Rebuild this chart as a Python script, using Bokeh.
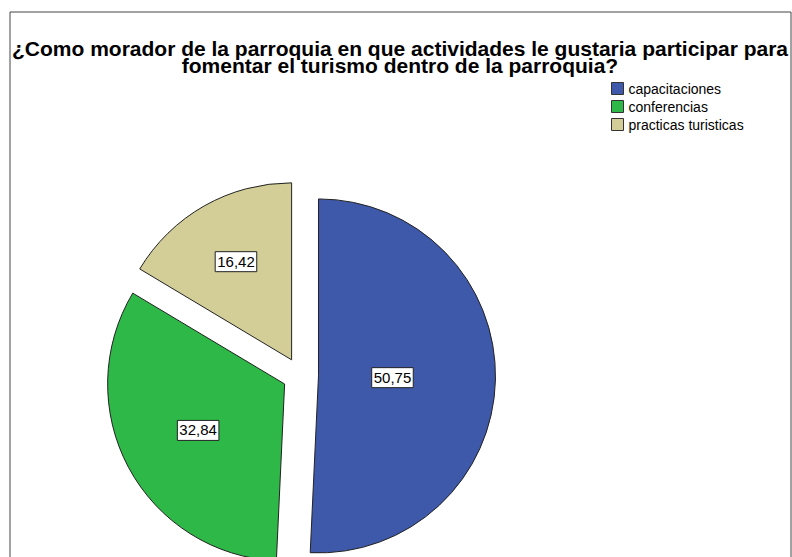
import numpy as np
from bokeh.plotting import figure
from bokeh.models import Range1d, Label, ColumnDataSource
from bokeh.embed import file_html
from bokeh.resources import INLINE
from bokeh.core.properties import value

# ---- data ----
categories = ["capacitaciones", "conferencias", "practicas turisticas"]
percentages = [50.75, 32.84, 16.42]
label_texts = ["50,75", "32,84", "16,42"]
colors = ["#3E58AA", "#2EB848", "#D3CE97"]
title_lines = [
    "¿Como morador de la parroquia en que actividades le gustaria participar para",
    "fomentar el turismo dentro de la parroquia?",
]

FONT = "Liberation Sans"
W, H = 792, 557


def sx(x):
    return x


def sy(y):
    return H - y


p = figure(width=W, height=H, x_range=Range1d(0, W), y_range=Range1d(0, H),
           output_backend="svg", toolbar_location=None, min_border=0)
p.axis.visible = False
p.grid.visible = False
p.outline_line_color = None
p.background_fill_color = "white"
p.border_fill_color = "white"

# chart frame (left, top, right sides)
p.line(x=[sx(9.5), sx(9.5), sx(790.5), sx(790.5)],
       y=[sy(600), sy(11.5), sy(11.5), sy(600)],
       line_color="#444444", line_width=1)

# ---- pie ----
cx, cy = sx(300), sy(375)
R = 177
D = 18

fr = np.array(percentages) / sum(percentages)
cum = np.concatenate([[0.0], np.cumsum(fr)])
start = np.pi / 2 - 2 * np.pi * cum[:-1]
end = np.pi / 2 - 2 * np.pi * cum[1:]
mid = (start + end) / 2
ox = cx + D * np.cos(mid)
oy = cy + D * np.sin(mid)
half = (start - end) / 2
cd = 2 * R * np.sin(half) / (3 * half)
lx = ox + cd * np.cos(mid)
ly = oy + cd * np.sin(mid)

src = ColumnDataSource(dict(x=ox, y=oy, start=start, end=end, color=colors, cat=categories))
p.wedge(x="x", y="y", radius=R, start_angle="start", end_angle="end",
        direction="clock", fill_color="color", line_color="#222222",
        line_width=1, source=src)

for t, x, y in zip(label_texts, lx, ly):
    p.add_layout(Label(x=x, y=y, text=t, text_align="center", text_baseline="middle",
                       text_font=FONT, text_font_size="15px", text_color="black",
                       background_fill_color="white", border_line_color="#222222",
                       border_line_width=1,
                       padding=dict(left=2, right=2, top=5, bottom=5)))

# ---- legend ----
leg_y = [sy(88), sy(106), sy(124)]
p.rect(x=[sx(617)] * 3, y=leg_y, width=12, height=12, fill_color=colors,
       line_color="#333333", line_width=1)
p.text(x=[sx(628)] * 3, y=leg_y, text=categories, text_baseline="middle",
       text_align="left", text_font=value(FONT), text_font_size="14px",
       text_color="black")

# ---- title ----
p.text(x=[sx(399.5)] * 2, y=[sy(48), sy(65)], text=title_lines,
       text_align="center", text_baseline="alphabetic", text_font=value(FONT),
       text_font_size="21px", text_font_style="bold", text_color="black")

open("out.html", "w").write(file_html(p, INLINE))
